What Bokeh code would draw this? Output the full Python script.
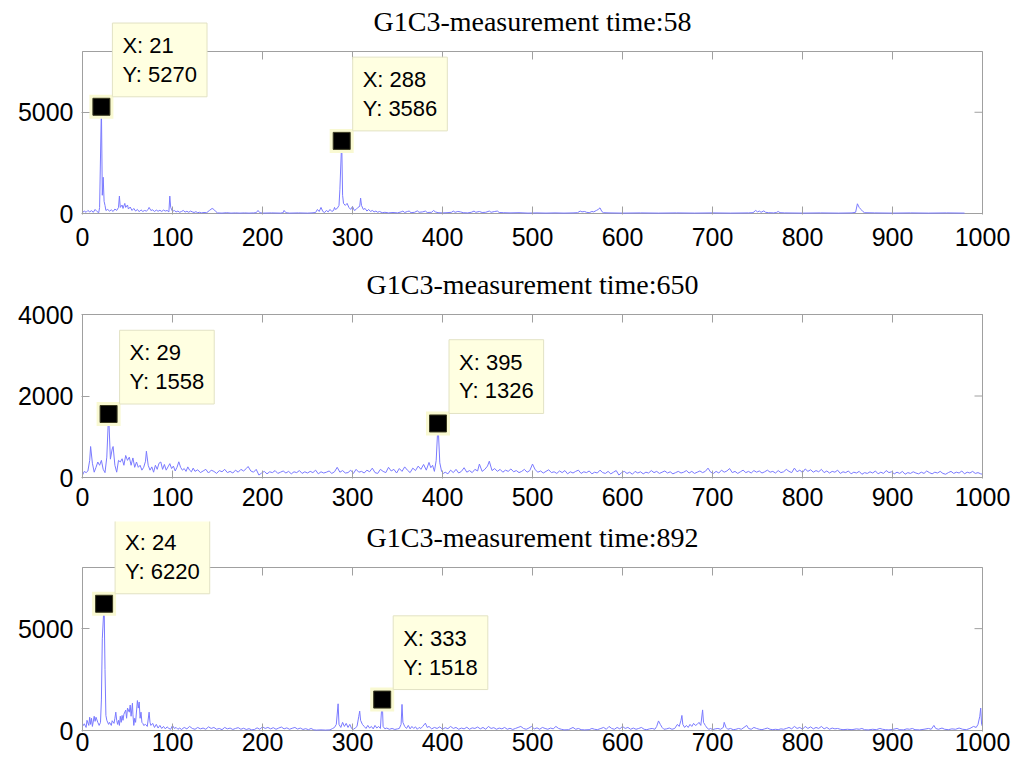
from bokeh.plotting import figure
from bokeh.models import FixedTicker, Range1d, Label
from bokeh.layouts import column
from bokeh.embed import file_html
from bokeh.resources import INLINE

# ---------------- data ----------------
x_ticks = [0, 100, 200, 300, 400, 500, 600, 700, 800, 900, 1000]
titles = ["G1C3-measurement time:58", "G1C3-measurement time:650", "G1C3-measurement time:892"]
y_max = [8000, 4000, 8000]
y_ticks = [[0, 5000], [0, 2000, 4000], [0, 5000]]

tips1 = [(21, 5270), (288, 3586)]
tips2 = [(29, 1558), (395, 1326)]
tips3 = [(24, 6220), (333, 1518)]

s1 = [(0,50),(2,120),(4,60),(6,150),(8,80),(10,140),(12,60),(14,200),(16,100),(18,40),(19,300),(21,5270),(22,900),(23,1790),(24,600),(25,400),(26,150),(28,200),(30,120),(32,180),(34,100),(36,220),(38,150),(40,300),(41,860),(42,300),(44,420),(45,250),(47,500),(48,300),(50,420),(51,220),(53,320),(55,150),(57,250),(59,120),(61,200),(63,90),(65,180),(67,100),(69,150),(71,120),(73,200),(74,300),(76,150),(78,180),(80,100),(82,170),(84,110),(86,160),(88,100),(90,170),(92,120),(94,150),(96,80),(97,860),(98,300),(100,100),(102,150),(104,80),(106,120),(108,60),(110,100),(112,150),(114,70),(116,110),(118,60),(120,120),(122,80),(124,50),(126,90),(128,40),(130,60),(132,30),(135,50),(138,40),(141,150),(144,250),(146,200),(148,100),(150,30),(155,20),(160,40),(165,20),(170,30),(175,20),(180,30),(185,20),(190,30),(193,40),(195,150),(197,40),(200,20),(210,30),(220,20),(223,40),(224,150),(226,40),(230,20),(240,30),(250,20),(255,30),(259,50),(261,200),(263,100),(265,300),(267,100),(269,50),(271,150),(273,80),(275,200),(277,100),(279,150),(280,300),(281,200),(283,250),(285,400),(286,1200),(288,3586),(289,900),(290,500),(292,400),(294,500),(296,300),(298,200),(300,350),(302,150),(304,200),(306,300),(308,350),(309,760),(310,400),(312,200),(314,250),(316,120),(318,200),(320,100),(322,150),(324,80),(326,120),(328,60),(330,100),(333,40),(336,60),(340,30),(345,50),(350,30),(354,80),(356,120),(358,50),(361,100),(363,120),(365,40),(369,60),(372,130),(374,60),(378,80),(381,120),(383,50),(388,60),(390,150),(392,80),(395,40),(400,30),(405,40),(410,60),(412,120),(414,60),(417,100),(420,80),(423,40),(428,30),(432,60),(435,120),(437,60),(441,100),(444,50),(448,60),(452,120),(454,60),(458,100),(461,120),(463,50),(468,40),(475,30),(485,40),(495,20),(505,30),(515,20),(525,30),(535,20),(545,30),(550,40),(553,120),(555,80),(558,100),(560,60),(563,40),(566,100),(568,80),(571,150),(573,200),(575,280),(577,100),(579,40),(585,30),(600,20),(620,30),(640,20),(660,30),(680,20),(700,30),(720,20),(740,30),(745,40),(748,150),(750,80),(752,120),(754,60),(757,130),(759,60),(762,40),(768,30),(771,50),(773,100),(775,40),(780,30),(800,20),(820,30),(840,20),(855,30),(859,60),(861,480),(863,300),(865,200),(867,100),(869,40),(880,30),(900,20),(920,30),(940,20),(960,30),(980,20)]

s2 = [(0,60),(2,150),(4,120),(6,160),(8,420),(9,760),(11,350),(13,130),(15,250),(17,380),(19,300),(21,420),(23,200),(25,120),(27,500),(29,1558),(31,450),(33,700),(34,760),(36,300),(38,130),(40,420),(42,380),(44,460),(46,300),(48,540),(50,420),(52,500),(54,300),(56,480),(58,250),(60,380),(62,250),(64,300),(66,180),(68,250),(70,400),(71,645),(73,300),(75,180),(77,260),(79,130),(81,300),(83,200),(85,350),(87,380),(89,200),(91,320),(93,180),(95,260),(97,340),(99,220),(101,280),(103,160),(105,250),(107,385),(109,250),(111,180),(113,220),(115,150),(117,260),(119,180),(121,140),(123,230),(125,150),
      (128,190),(131,120),(134,160),(137,200),(140,110),(143,180),(146,150),(149,100),(152,170),(155,140),(158,200),(161,120),(164,150),(167,110),(170,180),(173,130),(176,200),(179,160),(182,220),(184,270),(187,160),(190,130),(193,200),(196,60),(199,110),(202,150),(205,90),(208,140),(211,120),(214,170),(217,100),(220,130),(223,160),(226,110),(229,150),(232,90),(235,140),(238,120),(241,170),(244,100),(247,140),(250,110),(253,150),(256,120),(259,180),(262,90),(265,140),(268,110),(271,130),(274,160),(277,100),(280,140),(283,250),(286,130),(289,170),(292,110),(295,120),(298,180),(301,100),(304,200),(307,130),(310,150),(313,110),(316,180),(319,140),(322,230),(325,120),(328,100),(331,200),(334,150),(337,120),(340,250),(343,160),(346,200),(349,110),(352,220),(355,150),(358,260),(361,180),(364,120),(367,230),(370,170),(373,280),(376,200),(379,320),(382,180),(385,370),(387,240),(389,300),(391,150),(393,420),(395,1326),(397,360),(399,150),(401,100),(403,130),(406,90),(409,180),(412,120),(415,200),(418,110),(421,150),(424,240),(427,130),(430,170),(433,120),(436,200),(439,160),(441,330),(444,150),(447,200),(450,280),(452,400),(455,170),(458,220),(461,150),(464,200),(467,130),(470,180),(473,150),(476,210),(479,140),(482,170),(485,120),(488,150),(491,200),(494,130),(497,170),(500,330),(503,190),(506,130),(509,160),(512,110),(515,150),(518,190),(521,120),(524,140),(527,100),(530,160),(533,120),(536,170),(539,90),(542,140),(545,110),(548,150),(551,180),(554,100),(557,140),(560,120),(563,160),(566,90),(569,130),(572,110),(575,180),(578,120),(581,100),(584,150),(587,90),(590,130),(593,170),(596,60),(599,120),(602,150),(605,100),(608,130),(611,80),(614,150),(617,110),(620,140),(623,90),(626,130),(629,110),(632,170),(635,120),(638,150),(641,100),(644,130),(647,160),(650,110),(653,140),(656,90),(659,120),(662,150),(665,110),(668,130),(671,170),(674,110),(677,150),(680,100),(683,130),(686,160),(689,120),(692,150),(695,230),(698,130),(701,100),(704,150),(707,110),(710,180),(713,130),(716,160),(719,220),(722,120),(725,150),(728,100),(731,140),(734,180),(737,120),(740,150),(743,110),(746,170),(749,130),(752,160),(755,110),(758,140),(761,180),(764,130),(767,150),(770,110),(773,170),(776,120),(779,140),(782,200),(785,150),(788,120),(791,230),(794,140),(797,180),(800,120),(803,210),(806,150),(809,190),(812,130),(815,170),(818,140),(821,200),(824,120),(827,160),(830,110),(833,150),(836,130),(839,180),(842,100),(845,140),(848,120),(851,160),(854,90),(857,130),(860,110),(863,150),(866,80),(869,120),(872,100),(875,140),(878,110),(881,160),(884,90),(887,130),(890,100),(893,170),(896,120),(899,140),(902,90),(905,130),(908,100),(911,150),(914,80),(917,120),(920,100),(923,140),(926,110),(929,90),(932,130),(935,100),(938,160),(941,120),(944,90),(947,130),(950,110),(953,150),(956,100),(959,80),(962,120),(965,150),(968,100),(971,130),(974,110),(977,160),(980,90),(983,130),(986,110),(989,150),(992,100),(995,120),(998,90),(1000,80)]

s3 = [(0,200),(2,330),(4,150),(5,500),(7,250),(8,650),(9,300),(10,600),(11,200),(13,700),(14,450),(15,650),(17,400),(18.5,250),(20,400),(21,1500),(22,4500),(24,6220),(25,3000),(26,740),(27,500),(29,300),(30,400),(32,250),(33,480),(35,350),(36,600),(37,900),(38,500),(39,300),(40,500),(41,250),(42,700),(43,400),(44,740),(45,500),(46,800),(48,1000),(49,600),(50,1100),(52,900),(53,1250),(54,700),(55.5,1340),(56,800),(57,250),(58,600),(59,400),(61,1470),(62,1100),(63,1400),(64,600),(65,900),(66,400),(67,350),(68,250),(70,300),(72,200),(74,900),(75,400),(76,250),(78,350),(80,150),(82,300),(84,120),(86,250),(88,100),(90,200),(92,80),(94,180),(96,100),(98,60),(100,250),(102,100),(104,150),(106,60),(108,120),(110,50),(113,150),(116,80),(119,200),(122,100),(125,60),(128,150),(131,80),(134,120),(137,60),(140,180),(143,100),(146,150),(149,60),(152,100),(155,40),(158,150),(161,80),(164,120),(167,50),(170,100),(173,140),(176,60),(179,110),(182,50),(185,90),(188,30),(191,50),(194,130),(197,60),(200,180),(203,100),(206,150),(209,80),(212,140),(215,60),(218,120),(221,170),(224,80),(227,130),(230,60),(233,110),(236,150),(239,70),(242,120),(245,50),(248,90),(251,40),(254,100),(257,30),(260,20),(265,30),(270,20),(275,30),(278,100),(280,150),(282,300),(284,1310),(285,300),(287,150),(289,400),(291,200),(293,350),(295,150),(297,300),(299,100),(301,60),(303,120),(305,200),(307,700),(308,950),(309,500),(311,300),(313,200),(315,100),(317,250),(319,120),(321,200),(323,80),(325,250),(327,120),(329,200),(331,100),(333,1518),(334,200),(336,80),(338,120),(341,60),(344,100),(347,50),(350,80),(352,100),(354,300),(355,1280),(356,400),(358,200),(360,100),(362,250),(364,80),(366,200),(368,100),(370,180),(372,60),(374,150),(376,100),(378,200),(381,360),(383,150),(385,200),(388,80),(391,150),(394,100),(397,180),(400,60),(403,140),(406,90),(409,200),(412,100),(415,150),(418,60),(421,120),(424,80),(427,160),(430,60),(433,130),(436,100),(439,170),(442,80),(445,150),(448,60),(451,200),(454,100),(457,140),(460,60),(463,120),(466,80),(469,150),(472,60),(475,110),(478,50),(481,100),(484,150),(487,200),(490,100),(493,60),(496,120),(499,200),(502,80),(505,130),(508,60),(511,150),(514,100),(517,60),(520,120),(523,80),(526,200),(529,100),(532,60),(535,30),(540,40),(545,150),(548,60),(551,100),(554,40),(558,30),(563,40),(566,100),(569,60),(572,40),(576,100),(579,150),(582,60),(585,200),(588,100),(591,60),(594,150),(597,80),(600,200),(603,100),(606,150),(609,60),(612,120),(615,60),(618,100),(621,150),(624,60),(627,40),(630,80),(633,100),(636,60),(638,200),(640,470),(642,300),(644,150),(646,60),(649,80),(652,120),(655,60),(658,100),(661,300),(663,200),(665,500),(666,740),(667,300),(669,150),(671,250),(673,150),(675,300),(677,200),(679,350),(681,250),(683,300),(685,400),(687,250),(689,1010),(690,400),(692,250),(694,120),(696,60),(698,100),(700,40),(703,80),(706,100),(709,60),(712,150),(713,400),(715,150),(717,60),(720,100),(723,40),(726,60),(729,100),(732,60),(735,150),(738,250),(740,100),(743,60),(746,150),(749,100),(752,60),(755,40),(758,80),(761,120),(764,60),(767,40),(770,60),(773,40),(776,80),(779,60),(782,100),(785,150),(788,80),(791,200),(794,100),(797,150),(800,60),(803,200),(806,100),(809,180),(812,80),(815,150),(818,100),(821,200),(824,80),(827,150),(830,60),(833,120),(836,80),(839,100),(842,60),(845,40),(850,60),(855,40),(860,80),(863,60),(866,100),(869,40),(873,30),(878,60),(882,40),(886,100),(889,60),(892,40),(896,30),(900,50),(905,100),(908,40),(912,30),(916,80),(919,60),(922,100),(925,40),(930,30),(935,60),(940,100),(943,60),(946,250),(948,100),(951,60),(955,120),(958,60),(962,40),(966,80),(970,60),(974,120),(978,60),(982,40),(986,100),(990,200),(993,150),(995,300),(997,700),(998,1100),(999,300),(1000,200)]

series = [s1, s2, s3]
tips = [tips1, tips2, tips3]

# ---------------- styling / layout ----------------
LINE = "#7a7aff"
BOX_GREY = "#a0a0a0"
TIP_BG = "#ffffe1"
TIP_EDGE = "#e2e2c4"
HALO = "#f9f9d2"
TICK_LEN = 8

# axes box on the page: left, top, bottom (px); figure top/bottom; extra frame above box
box_left = [82, 78, 82]
box_top = [51, 314, 567]
box_bottom = [213, 477, 730]
fig_top = [0, 262, 520]
fig_bottom = [262, 520, 770]
extra_top = [45, 46, 46]
x_standoff = [13, 9, 1]
TITLE_RAISE = 30
PAGE_W = 1016
BOX_W = 900

figs = []
for i in range(3):
    L, T, B = box_left[i], box_top[i], box_bottom[i]
    E = extra_top[i]
    box_h = B - T
    ymax = y_max[i]
    sx = BOX_W / 1000.0          # px per x unit
    sy = box_h / float(ymax)     # px per y unit

    p = figure(frame_width=BOX_W + 2, frame_height=box_h + E + 1,
               x_range=Range1d(-1 / sx, 1000 + 1 / sx),
               y_range=Range1d(-1 / sy, ymax + E / sy),
               output_backend="svg", toolbar_location=None,
               min_border_left=L - 1, min_border_top=T - E - fig_top[i],
               min_border_bottom=fig_bottom[i] - (B + 1),
               min_border_right=PAGE_W - (L - 1) - (BOX_W + 2))
    p.grid.visible = False
    p.outline_line_color = None
    p.background_fill_color = "white"
    p.border_fill_color = "white"

    for ax, ticks, so in ((p.xaxis[0], x_ticks, x_standoff[i]), (p.yaxis[0], y_ticks[i], 8)):
        ax.ticker = FixedTicker(ticks=ticks)
        ax.major_tick_in = TICK_LEN
        ax.major_tick_out = 0
        ax.major_tick_line_color = BOX_GREY
        ax.minor_tick_line_color = None
        ax.axis_line_color = None
        ax.major_label_text_font = "Liberation Sans"
        ax.major_label_text_font_size = "25px"
        ax.major_label_text_color = "black"
        ax.major_label_standoff = so

    # axes box
    p.quad(left=[0], right=[1000], bottom=[0], top=[ymax],
           fill_color=None, line_color=BOX_GREY, line_width=1)
    # mirrored ticks on top and right
    p.segment(x0=x_ticks, x1=x_ticks, y0=[ymax] * len(x_ticks),
              y1=[ymax - TICK_LEN / sy] * len(x_ticks), line_color=BOX_GREY)
    p.segment(x0=[1000] * len(y_ticks[i]), x1=[1000 - TICK_LEN / sx] * len(y_ticks[i]),
              y0=y_ticks[i], y1=y_ticks[i], line_color=BOX_GREY)

    # title
    p.add_layout(Label(x=500, y=ymax + TITLE_RAISE / sy, text=titles[i],
                       text_font="Liberation Serif", text_font_size="28px",
                       text_color="black", text_align="center",
                       text_baseline="alphabetic"))

    xs = [q[0] for q in series[i]]
    ys = [q[1] for q in series[i]]
    p.line(xs, ys, line_color=LINE, line_width=1)

    tx = [t[0] for t in tips[i]]
    ty = [t[1] for t in tips[i]]
    p.scatter(tx, ty, marker="square", size=24, fill_color=HALO, line_color=None)
    p.scatter(tx, ty, marker="square", size=17, fill_color="black", line_color="#3a3a20")

    for (a, b) in tips[i]:
        p.add_layout(Label(x=a, y=b, x_offset=11, y_offset=10,
                           text="X: %d\nY: %d" % (a, b),
                           text_font="Liberation Sans", text_font_size="22px",
                           text_color="black", text_align="left", text_baseline="bottom",
                           text_line_height=1.15,
                           background_fill_color=TIP_BG, border_line_color=TIP_EDGE,
                           border_line_width=1, padding=10))
    figs.append(p)

layout = column(*figs, spacing=0)
open("out.html", "w").write(file_html(layout, INLINE))
